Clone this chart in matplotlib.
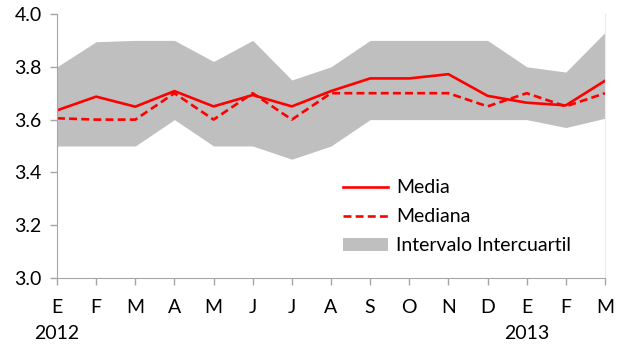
import numpy as np
import matplotlib.pyplot as plt

plt.rcParams['font.family'] = ['Lato', 'DejaVu Sans']

meses = ["E", "F", "M", "A", "M", "J", "J", "A", "S", "O", "N", "D", "E", "F", "M"]
media = [3.635, 3.687, 3.649, 3.708, 3.65, 3.693, 3.65, 3.708, 3.756, 3.756, 3.772, 3.69, 3.664, 3.654, 3.747]
mediana = [3.605, 3.60, 3.60, 3.70, 3.60, 3.70, 3.60, 3.70, 3.70, 3.70, 3.70, 3.65, 3.70, 3.65, 3.70]
q_sup = [3.80, 3.895, 3.90, 3.90, 3.82, 3.90, 3.75, 3.80, 3.90, 3.90, 3.90, 3.90, 3.80, 3.78, 3.93]
q_inf = [3.50, 3.50, 3.50, 3.60, 3.50, 3.50, 3.45, 3.50, 3.60, 3.60, 3.60, 3.60, 3.60, 3.57, 3.605]
anios = {0: "2012", 12: "2013"}

x = np.arange(len(meses))

fig = plt.figure(figsize=(6.17, 3.48), dpi=100)
ax = fig.add_axes([0.0924, 0.2011, 0.8881, 0.7587])

ax.fill_between(x, q_inf, q_sup, color='#bfbfbf', linewidth=0, label="Intervalo Intercuartil")
ax.plot(x, media, color='#ff0000', linewidth=1.9, label="Media")
ax.plot(x, mediana, color='#ff0000', linewidth=1.9, linestyle=(0, (3, 1.6)), label="Mediana")

ax.set_xlim(0, len(meses) - 1)
ax.set_ylim(3.0, 4.0)
ax.set_yticks(np.arange(3.0, 4.01, 0.2))
ax.set_yticklabels(["%.1f" % v for v in np.arange(3.0, 4.01, 0.2)])
ax.set_xticks(x)
ax.set_xticklabels(meses)

ax.spines['top'].set_visible(False)
ax.spines['right'].set_color('#ececec')
ax.spines['left'].set_color('#a6a6a6')
ax.spines['bottom'].set_color('#a6a6a6')
ax.tick_params(axis='both', colors='#a6a6a6', labelcolor='black', labelsize=14, length=5, width=1)
ax.tick_params(axis='x', pad=10)
ax.tick_params(axis='y', pad=6)

for i, a in anios.items():
    ax.text(i, 2.79, a, ha='center', va='center', fontsize=14, clip_on=False)

h, l = ax.get_legend_handles_labels()
order = [1, 2, 0]
ax.legend([h[i] for i in order], [l[i] for i in order], loc='upper left', bbox_to_anchor=(0.49, 0.44),
          frameon=False, fontsize=14, handlelength=2.3, handletextpad=0.45, labelspacing=0.62)

fig.savefig('out.png', dpi=100)
